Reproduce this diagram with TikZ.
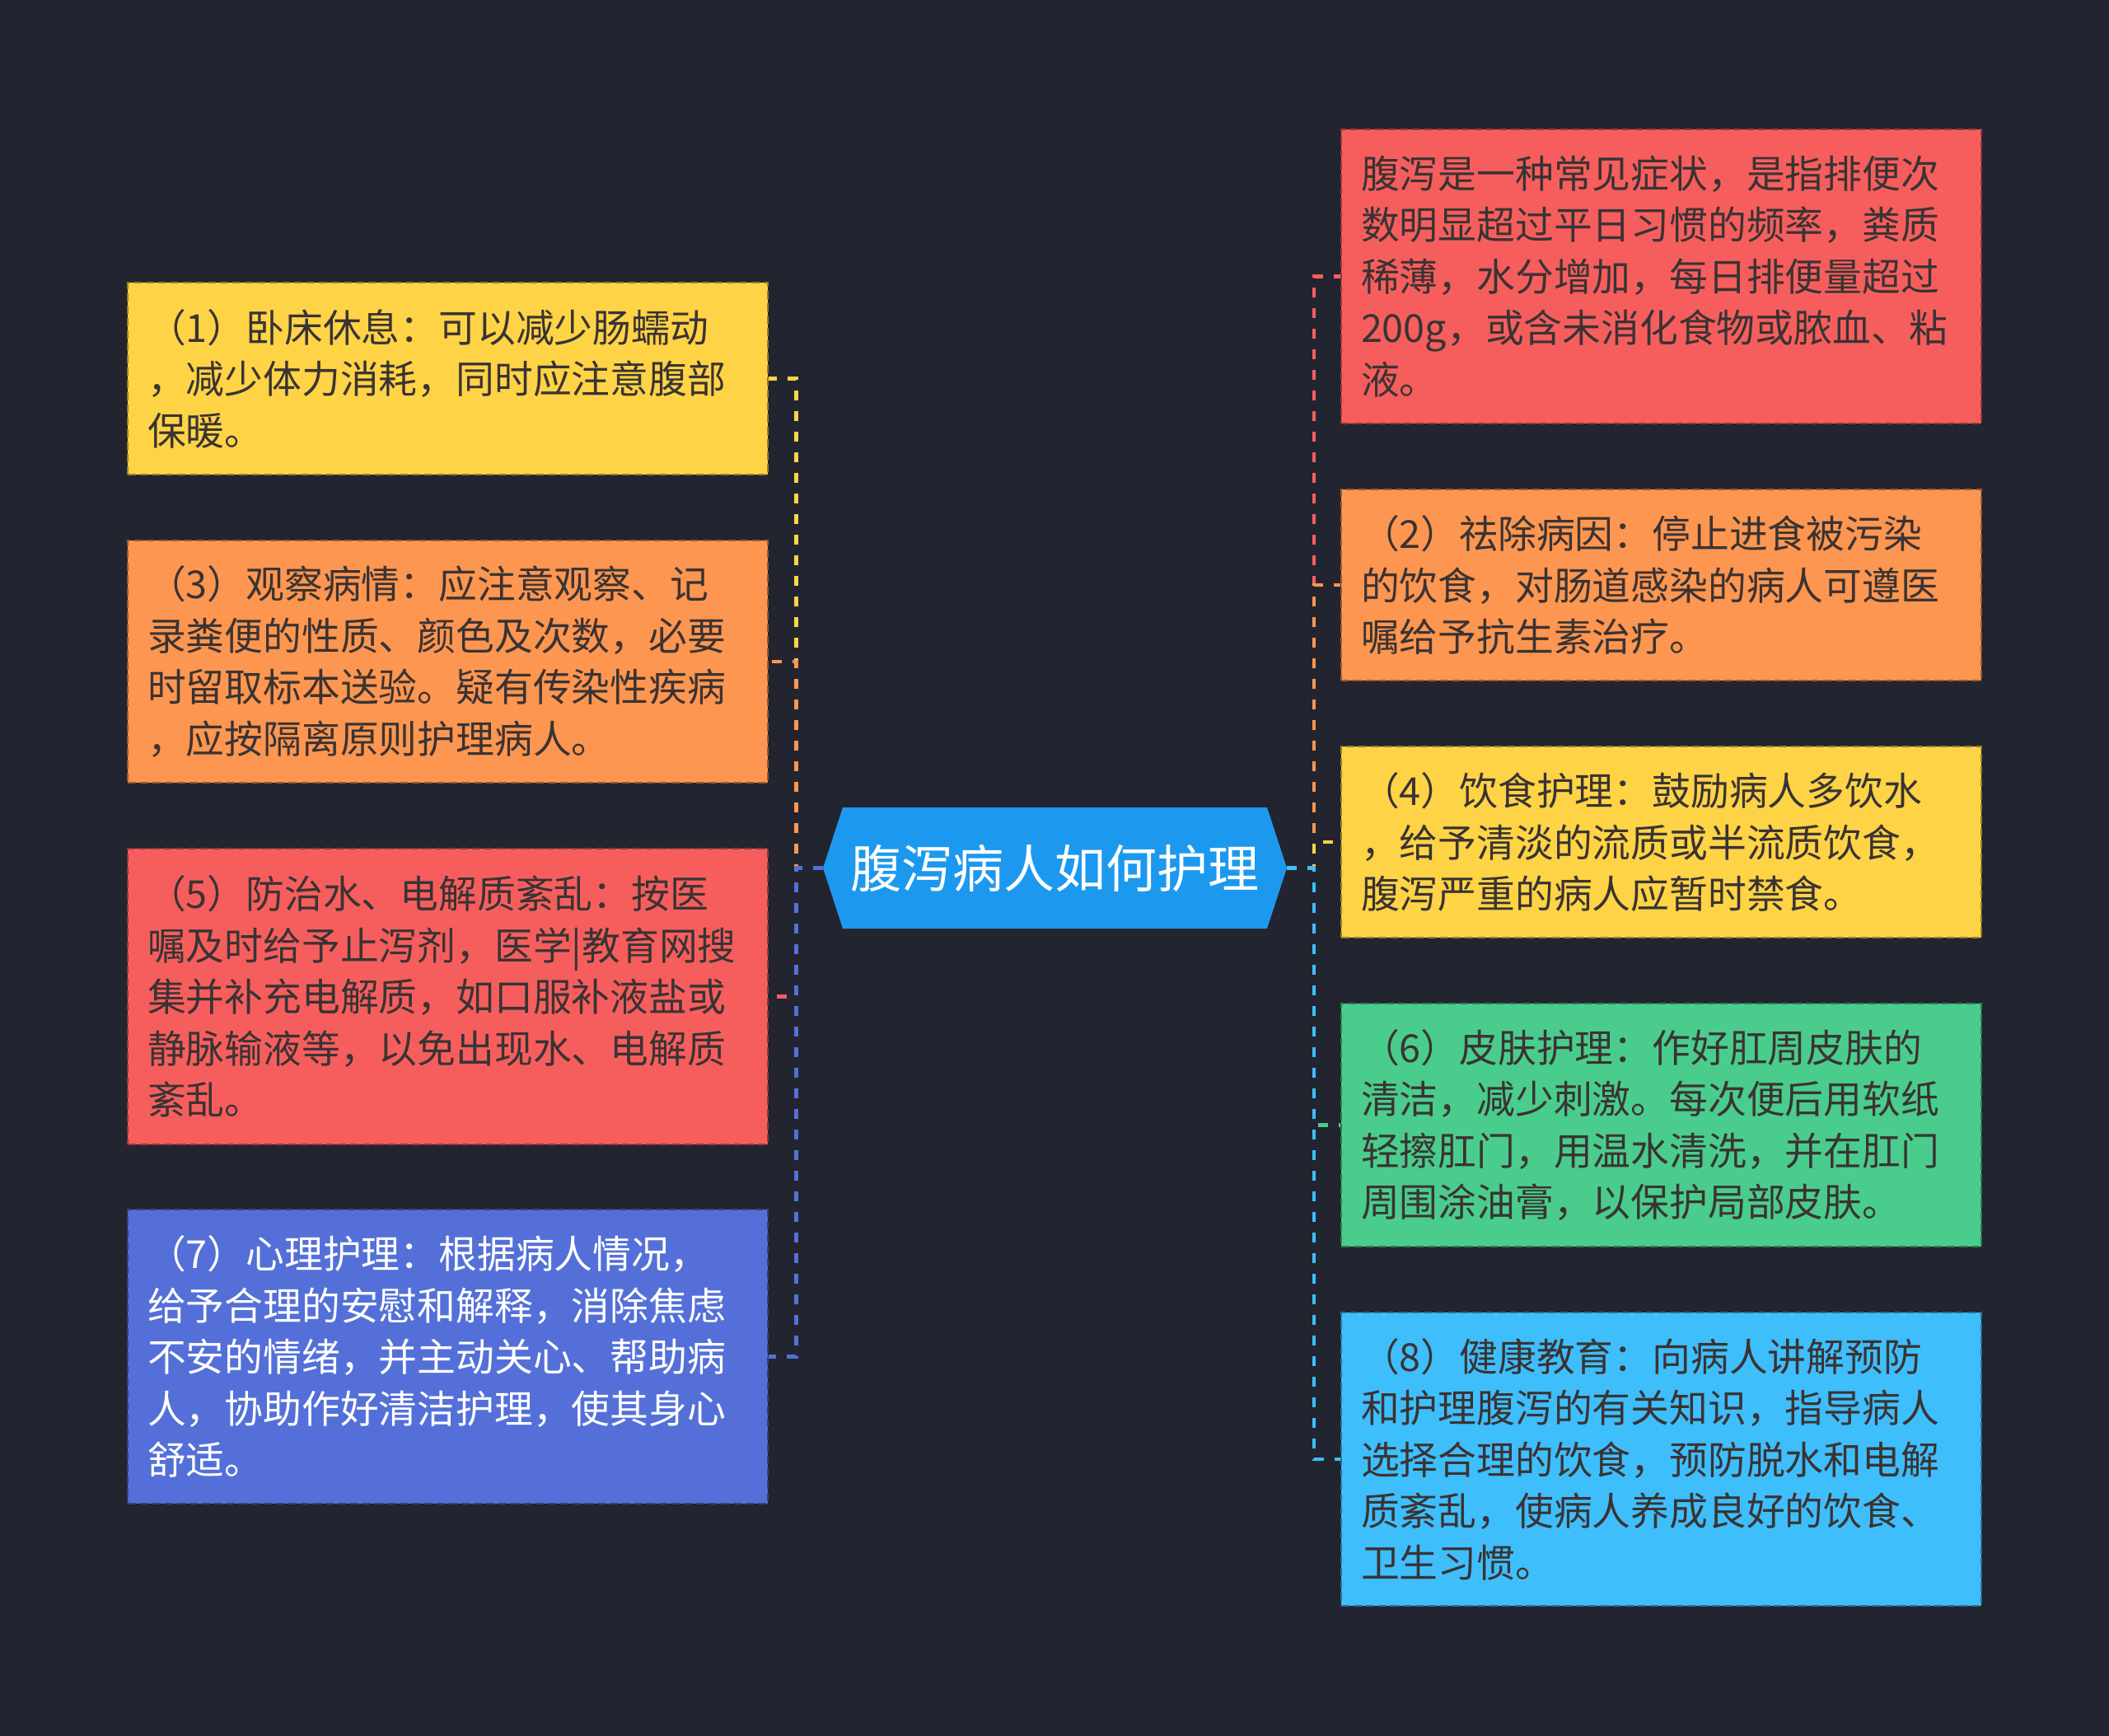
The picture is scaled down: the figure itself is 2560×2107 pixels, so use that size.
\documentclass[tikz,border=0pt]{standalone}
\usepackage{fontspec}
\setmainfont{Noto Sans CJK SC}
\usepackage{xcolor}
\usepackage{tikz}
\definecolor{C22252F}{HTML}{22252F}
\definecolor{C1C99EE}{HTML}{1C99EE}
\definecolor{CF65E5E}{HTML}{F65E5E}
\definecolor{CFD9650}{HTML}{FD9650}
\definecolor{CFED446}{HTML}{FED446}
\definecolor{C4ACD8C}{HTML}{4ACD8C}
\definecolor{C3FBEFC}{HTML}{3FBEFC}
\definecolor{C5470D8}{HTML}{5470D8}
\definecolor{C3A3333}{HTML}{3A3333}

\begin{document}
\begin{tikzpicture}[inner sep=0pt,
  box/.style={fill=#1, draw=#1!60!black, line width=2pt, dash pattern=on 10pt off 5pt,
    minimum width=777pt, text width=729pt, inner xsep=24pt, align=left, text=C3A3333,
    font=\fontsize{46.8}{62.5}\selectfont},
  hub/.style={minimum width=563pt, minimum height=147pt, text=white, font=\fontsize{62}{70}\selectfont,
    path picture={\fill[C1C99EE] (path picture bounding box.west) -- ([xshift=24pt]path picture bounding box.north west)
      -- ([xshift=-24pt]path picture bounding box.north east) -- (path picture bounding box.east)
      -- ([xshift=-24pt]path picture bounding box.south east) -- ([xshift=24pt]path picture bounding box.south west) -- cycle;}},
  link/.style={line width=4.5pt, dash pattern=on 12pt off 13pt}]
\fill [C22252F] (0pt,0pt) rectangle (2560pt,-2107pt);
\useasboundingbox (0pt,0pt) rectangle (2560pt,-2107pt);
% centre
\node (n0) [hub,at={(1280.5pt,-1053.5pt)}] {腹泻病人如何护理};
% left column
\node (n1) [box=CFED446,minimum height=233pt,at={(543.5pt,-459.5pt)}] {（1）卧床休息：可以减少肠蠕动\\，减少体力消耗，同时应注意腹部\\保暖。};
\node (n3) [box=CFD9650,minimum height=294pt,at={(543.5pt,-803pt)}] {（3）观察病情：应注意观察、记\\录粪便的性质、颜色及次数，必要\\时留取标本送验。疑有传染性疾病\\，应按隔离原则护理病人。};
\node (n5) [box=CF65E5E,minimum height=359pt,at={(543.5pt,-1209.5pt)}] {（5）防治水、电解质紊乱：按医\\嘱及时给予止泻剂，医学|教育网搜\\集并补充电解质，如口服补液盐或\\静脉输液等，以免出现水、电解质\\紊乱。};
\node (n7) [box=C5470D8,text=white,minimum height=357pt,at={(543.5pt,-1646.5pt)}] {（7）心理护理：根据病人情况，\\给予合理的安慰和解释，消除焦虑\\不安的情绪，并主动关心、帮助病\\人，协助作好清洁护理，使其身心\\舒适。};
% right column
\node (n9) [box=CF65E5E,minimum height=357pt,at={(2016.5pt,-335.5pt)}] {腹泻是一种常见症状，是指排便次\\数明显超过平日习惯的频率，粪质\\稀薄，水分增加，每日排便量超过\\200g，或含未消化食物或脓血、粘\\液。};
\node (n2) [box=CFD9650,minimum height=232pt,at={(2016.5pt,-710pt)}] {（2）祛除病因：停止进食被污染\\的饮食，对肠道感染的病人可遵医\\嘱给予抗生素治疗。};
\node (n4) [box=CFED446,minimum height=232pt,at={(2016.5pt,-1022pt)}] {（4）饮食护理：鼓励病人多饮水\\，给予清淡的流质或半流质饮食，\\腹泻严重的病人应暂时禁食。};
\node (n6) [box=C4ACD8C,minimum height=295pt,at={(2016.5pt,-1365.5pt)}] {（6）皮肤护理：作好肛周皮肤的\\清洁，减少刺激。每次便后用软纸\\轻擦肛门，用温水清洗，并在肛门\\周围涂油膏，以保护局部皮肤。};
\node (n8) [box=C3FBEFC,minimum height=356pt,at={(2016.5pt,-1771pt)}] {（8）健康教育：向病人讲解预防\\和护理腹泻的有关知识，指导病人\\选择合理的饮食，预防脱水和电解\\质紊乱，使病人养成良好的饮食、\\卫生习惯。};
% spines
\coordinate (cl) at (966.5pt,-1053.5pt);
\coordinate (cr) at (1595pt,-1053.5pt);
\path [link,draw=CFED446](n0.west)--(cl)|-(n1.east);
\path [link,draw=CFD9650](n0.west)--(cl)|-(n3.east);
\path [link,draw=CF65E5E](n0.west)--(cl)|-(n5.east);
\path [link,draw=C5470D8](n0.west)--(cl)|-(n7.east);
\path [link,draw=CF65E5E](n0.east)--(cr)|-(n9.west);
\path [link,draw=CFD9650](n0.east)--(cr)|-(n2.west);
\path [link,draw=CFED446](n0.east)--(cr)|-(n4.west);
\path [link,draw=C4ACD8C](n0.east)--(cr)|-(n6.west);
\path [link,draw=C3FBEFC](n0.east)--(cr)|-(n8.west);
\end{tikzpicture}
\end{document}
